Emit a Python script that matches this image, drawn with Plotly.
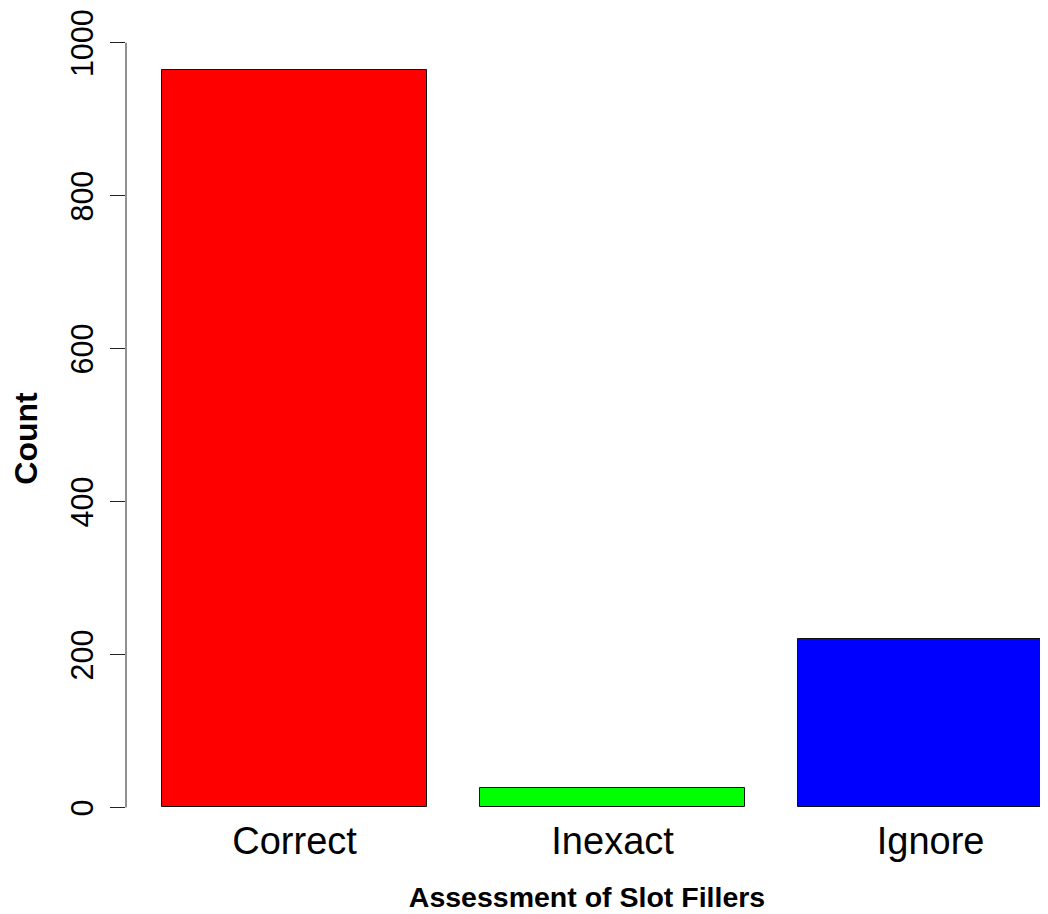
import plotly.graph_objects as go

# Data
categories = ["Correct", "Inexact", "Ignore"]
counts = [965, 26, 220]
bar_colors = ["#FF0000", "#00FF00", "#0000FF"]
y_ticks = [0, 200, 400, 600, 800, 1000]

# R barplot geometry: width 1, space 0.2
bar_width = 1.0
space = 0.2
centers = [space + bar_width / 2 + i * (bar_width + space) for i in range(len(categories))]

# R-like axis extension (4%)
y_lo, y_hi = 0, max(counts)
ext = 0.04 * (y_hi - y_lo)
y_range = [y_lo - ext, y_hi + ext]
x_left = space - 0.04 * (len(categories) * (bar_width + space) - space)
x_range = [x_left, 3.543]

fig = go.Figure()
fig.add_trace(go.Bar(
    x=centers,
    y=counts,
    width=bar_width,
    marker=dict(color=bar_colors, line=dict(color="#111111", width=1)),
    showlegend=False,
    hoverinfo="x+y",
))

fig.update_layout(
    width=1048,
    height=914,
    margin=dict(l=118, r=8, t=32, b=85, autoexpand=False),
    paper_bgcolor="white",
    plot_bgcolor="white",
    font=dict(family="Liberation Sans, Arial, sans-serif", color="black"),
    bargap=0,
)

fig.update_xaxes(
    range=x_range,
    tickmode="array",
    tickvals=centers,
    ticktext=categories,
    tickfont=dict(size=38),
    ticks="",
    showline=False,
    showgrid=False,
    zeroline=False,
    automargin=False,
    ticklabelstandoff=-22,
    ticklabeloverflow="allow",
    title=dict(text="<b>Assessment of Slot Fillers</b>", font=dict(size=28.5), standoff=26),
)

fig.update_yaxes(
    range=y_range,
    tickmode="array",
    tickvals=y_ticks,
    ticktext=[str(v) for v in y_ticks],
    tickangle=-90,
    tickfont=dict(size=30.5),
    ticks="outside",
    ticklen=15,
    tickcolor="#222222",
    tickwidth=1,
    showline=False,
    showgrid=False,
    zeroline=False,
    automargin=False,
    ticklabelstandoff=5,
    ticklabelshift=5,
    ticklabeloverflow="allow",
    title=dict(text="<b>Count</b>", font=dict(size=32), standoff=22),
)

# R-style axis line spanning only the tick range
fig.add_shape(
    type="line", xref="paper", yref="y",
    x0=0, x1=0, y0=y_ticks[0], y1=y_ticks[-1],
    line=dict(color="#222222", width=1),
)

fig.write_html("out.html")
